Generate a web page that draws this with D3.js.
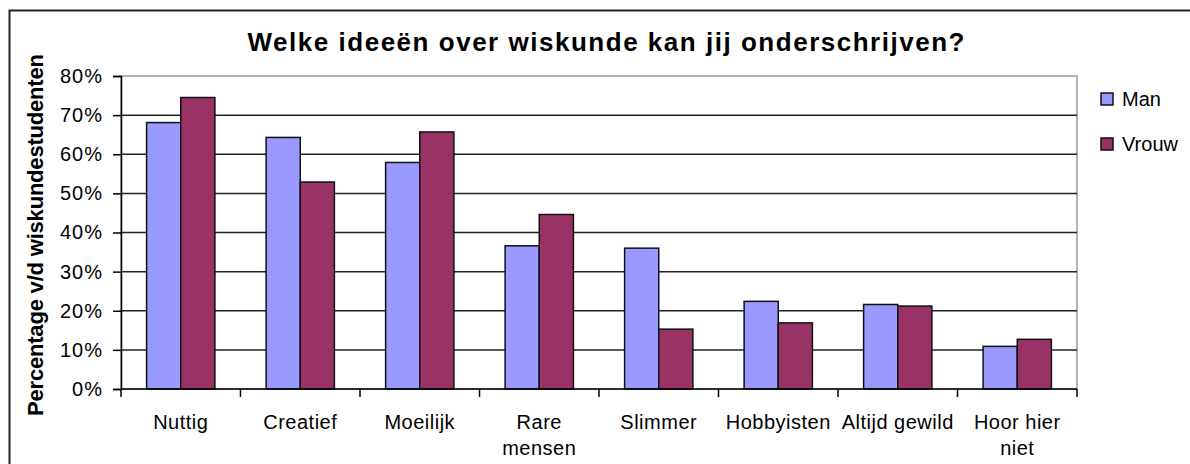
<!DOCTYPE html>
<html>
<head>
<meta charset="utf-8">
<script src="https://cdn.jsdelivr.net/npm/d3@7"></script>
<style>
    body { margin: 0; background: #fff; }
    text { font-family: "Liberation Sans", Arial, sans-serif; fill: #000; }
</style>
</head>
<body>
<svg id="chart" width="1190" height="464"></svg>
<script>

// data
let categories = ["Nuttig", "Creatief", "Moeilijk", "Rare mensen", "Slimmer", "Hobbyisten", "Altijd gewild", "Hoor hier niet"];
let seriesNames = ["Man", "Vrouw"];
let manValues = [0.681, 0.643, 0.579, 0.366, 0.360, 0.224, 0.216, 0.109];
let vrouwValues = [0.745, 0.529, 0.657, 0.446, 0.153, 0.169, 0.212, 0.127];
let yTicks = [0, 0.1, 0.2, 0.3, 0.4, 0.5, 0.6, 0.7, 0.8];
let seriesColors = ["#9999FF", "#993366"];

let svg = d3.select("#chart");

let margin = {left: 121, right: 1077, top: 76, bottom: 389};

// outer chart frame (only top & left visible)
svg.append("rect")
    .attr("x", 9.5).attr("y", 10.5)
    .attr("width", 1300).attr("height", 600)
    .attr("fill", "none")
    .attr("stroke", "#222")
    .attr("stroke-width", 2);

let x0 = d3.scaleBand()
    .domain(categories)
    .range([margin.left, margin.right])
    .padding(0);

// excel style: gap width 150%
let x1 = d3.scaleBand()
    .domain(seriesNames)
    .range([0, x0.bandwidth()])
    .paddingInner(0)
    .paddingOuter(0.75);

let y = d3.scaleLinear()
    .domain([0, 0.8])
    .range([margin.bottom, margin.top]);

// plot area border
svg.append("rect")
    .attr("x", margin.left).attr("y", margin.top)
    .attr("width", margin.right - margin.left)
    .attr("height", margin.bottom - margin.top)
    .attr("fill", "none")
    .attr("stroke", "#999")
    .attr("stroke-width", 1.5);

// gridlines
svg.append("g")
    .selectAll("line")
    .data(yTicks.filter(d => d > 0 && d < 0.8))
    .join("line")
    .attr("x1", margin.left).attr("x2", margin.right)
    .attr("y1", d => y(d)).attr("y2", d => y(d))
    .attr("stroke", "#222")
    .attr("stroke-width", 1.5);

// y axis
let yAxis = d3.axisLeft(y)
    .tickValues(yTicks)
    .tickFormat(d3.format(".0%"))
    .tickSize(8)
    .tickPadding(10);

let yG = svg.append("g")
    .attr("transform", "translate(" + margin.left + ",0)")
    .call(yAxis);
yG.select(".domain").attr("stroke", "#000").attr("stroke-width", 1.5);
yG.selectAll(".tick line").attr("stroke", "#000").attr("stroke-width", 1.5);
yG.selectAll(".tick text")
    .attr("font-size", 20)
    .attr("letter-spacing", 1)
    .attr("font-family", "Liberation Sans, Arial, sans-serif")
    .attr("fill", "#000");

// bars
let groups = svg.append("g")
    .selectAll("g")
    .data(categories)
    .join("g")
    .attr("transform", d => "translate(" + x0(d) + ",0)");

groups.selectAll("rect")
    .data((d, i) => [
        {key: seriesNames[0], value: manValues[i], color: seriesColors[0]},
        {key: seriesNames[1], value: vrouwValues[i], color: seriesColors[1]}
    ])
    .join("rect")
    .attr("x", d => x1(d.key))
    .attr("y", d => y(d.value))
    .attr("width", x1.bandwidth())
    .attr("height", d => y(0) - y(d.value))
    .attr("fill", d => d.color)
    .attr("stroke", "#111")
    .attr("stroke-width", 1.5);

// x axis
let xG = svg.append("g")
    .attr("transform", "translate(0," + margin.bottom + ")");

xG.append("line")
    .attr("x1", margin.left).attr("x2", margin.right)
    .attr("stroke", "#000").attr("stroke-width", 1.5);

xG.selectAll(".xtick")
    .data(categories.concat(["end"]))
    .join("line")
    .attr("class", "xtick")
    .attr("x1", (d, i) => i < categories.length ? x0(d) : margin.right)
    .attr("x2", (d, i) => i < categories.length ? x0(d) : margin.right)
    .attr("y1", 0).attr("y2", 8)
    .attr("stroke", "#000").attr("stroke-width", 1.5);

let labels = xG.selectAll(".xlabel")
    .data(categories)
    .join("text")
    .attr("class", "xlabel")
    .attr("text-anchor", "middle")
    .attr("font-size", 20)
    .attr("letter-spacing", 0.5)
    .attr("transform", d => "translate(" + (x0(d) + x0.bandwidth() / 2) + ",40)");

// wrap labels that are wider than the band, like excel does
labels.each(function(d) {
    let el = d3.select(this);
    el.text(d);
    if (this.getComputedTextLength() > x0.bandwidth() - 5) {
        let words = d.split(" ");
        let first = words.slice(0, words.length - 1).join(" ");
        let last = words[words.length - 1];
        el.text(null);
        el.append("tspan").attr("x", 0).attr("dy", 0).text(first);
        el.append("tspan").attr("x", 0).attr("dy", 26).text(last);
    }
});

// title
svg.append("text")
    .attr("x", 606)
    .attr("y", 51)
    .attr("text-anchor", "middle")
    .attr("font-size", 26)
    .attr("font-weight", "bold")
    .attr("textLength", 717)
    .attr("lengthAdjust", "spacing")
    .text("Welke ideeën over wiskunde kan jij onderschrijven?");

// y label
svg.append("text")
    .attr("transform", "translate(43,235) rotate(-90)")
    .attr("text-anchor", "middle")
    .attr("font-size", 22)
    .attr("font-weight", "bold")
    .attr("textLength", 362)
    .attr("lengthAdjust", "spacing")
    .text("Percentage v/d wiskundestudenten");

// legend
let legend = svg.append("g")
    .selectAll("g")
    .data(seriesNames)
    .join("g")
    .attr("transform", (d, i) => "translate(1101," + (93 + i * 45) + ")");

legend.append("rect")
    .attr("width", 12).attr("height", 12)
    .attr("fill", (d, i) => seriesColors[i])
    .attr("stroke", "#111")
    .attr("stroke-width", 1.5);

legend.append("text")
    .attr("x", 21)
    .attr("y", 13)
    .attr("font-size", 20)
    .text(d => d);

</script>
</body>
</html>
